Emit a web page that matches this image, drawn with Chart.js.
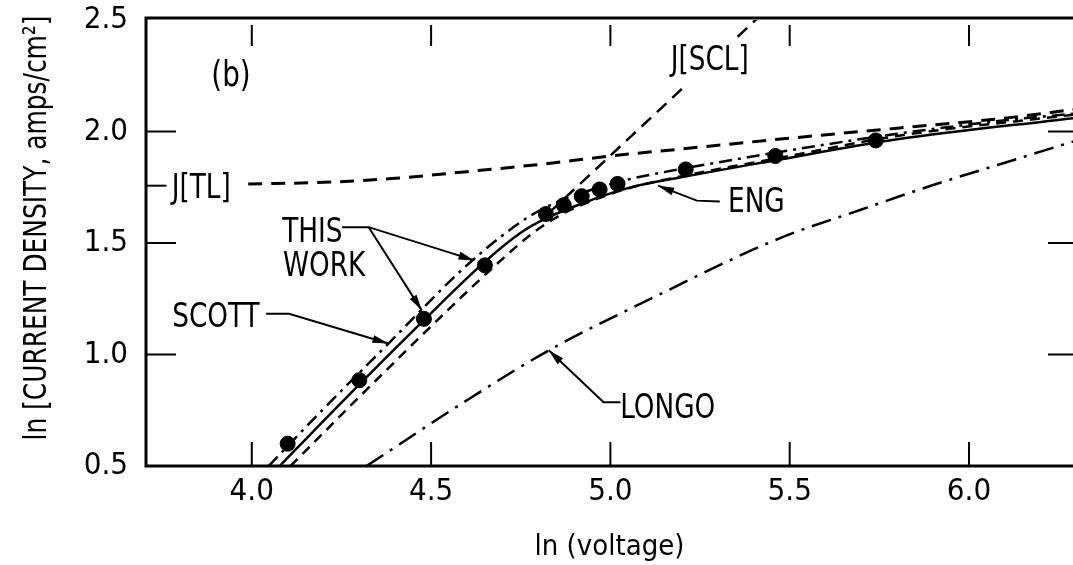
<!DOCTYPE html>
<html>
<head>
<meta charset="utf-8">
<script src="https://cdn.jsdelivr.net/npm/chart.js@4.4.1/dist/chart.umd.min.js"></script>
<style>
  html, body { margin: 0; padding: 0; background: #fff; overflow: hidden; }
</style>
</head>
<body>
<canvas id="chart" width="1073" height="565"></canvas>
<script>
// Axis ticks
const xTicks = [4.0, 4.5, 5.0, 5.5, 6.0];
const yTicks = [0.5, 1.0, 1.5, 2.0, 2.5];

// Measured points (filled circles)
const dataV = [4.10, 4.30, 4.48, 4.65, 4.82, 4.87, 4.92, 4.97, 5.02, 5.21, 5.46, 5.74];
const dataJ = [0.60, 0.885, 1.16, 1.40, 1.63, 1.67, 1.71, 1.74, 1.765, 1.83, 1.89, 1.96];

// J[TL] (long dashes)
const tlV = [3.99, 4.2, 4.4, 4.6, 4.8, 5.0, 5.2, 5.5, 5.8, 6.1, 6.3];
const tlJ = [1.765, 1.772, 1.79, 1.82, 1.852, 1.89, 1.922, 1.97, 2.015, 2.06, 2.10];

// J[SCL] (dashed, broken where the label sits)
const sclV = [4.83, 5.20, 5.28, 5.355, 5.41];
const sclJ = [1.637, 2.192, null, 2.425, 2.508];

// SCOTT (dash-dot)
const scottV = [4.047, 4.197, 4.381, 4.584, 4.70, 4.78, 4.86, 4.95, 5.05, 5.208, 5.46, 5.8, 6.1, 6.29];
const scottJ = [0.50, 0.751, 1.049, 1.377, 1.535, 1.625, 1.69, 1.74, 1.785, 1.835, 1.905, 1.99, 2.05, 2.08];

// ENG (solid)
const engV = [4.078, 4.224, 4.485, 4.648, 4.751, 4.82, 4.917, 5.046, 5.208, 5.45, 5.8, 6.29];
const engJ = [0.50, 0.742, 1.162, 1.413, 1.547, 1.610, 1.675, 1.745, 1.798, 1.868, 1.965, 2.06];

// THIS WORK (dashed)
const workV = [4.108, 4.30, 4.557, 4.70, 4.78, 4.86, 4.95, 5.05, 5.2, 5.45, 5.8, 6.29];
const workJ = [0.50, 0.81, 1.215, 1.43, 1.54, 1.625, 1.69, 1.745, 1.80, 1.875, 1.98, 2.075];

// LONGO (dash-dot)
const longoV = [4.32, 4.6, 4.83, 5.1, 5.47, 5.7, 5.9, 6.1, 6.29];
const longoJ = [0.50, 0.795, 1.02, 1.24, 1.52, 1.65, 1.76, 1.86, 1.955];

const FONT = '"DejaVu Sans Condensed", "Liberation Sans", sans-serif';

function pts(xs, ys) {
    return xs.map((v, i) => ({ x: v, y: ys[i] }));
}

function curve(xs, ys, dash, width) {
    return {
        data: pts(xs, ys),
        showLine: true,
        borderColor: '#000',
        borderWidth: width,
        borderDash: dash,
        pointRadius: 0,
        tension: 0.4,
        cubicInterpolationMode: 'monotone',
        spanGaps: false
    };
}

// Text labels and leader arrows, in data units
const notes = [
    { text: '(b)', x: 3.942, y: 2.245, size: 36 },
    { text: 'J[SCL]', x: 5.277, y: 2.317 },
    { text: 'J[TL]', x: 3.859, y: 1.740 },
    { text: 'THIS', x: 4.169, y: 1.543 },
    { text: 'WORK', x: 4.202, y: 1.392 },
    { text: 'SCOTT', x: 3.900, y: 1.162 },
    { text: 'ENG', x: 5.407, y: 1.678 },
    { text: 'LONGO', x: 5.160, y: 0.755 }
];
const leaders = [
    { path: [[3.705, 1.757], [3.762, 1.757]], arrow: false },
    { path: [[4.252, 1.571], [4.326, 1.571], [4.621, 1.422]], arrow: true },
    { path: [[4.326, 1.571], [4.474, 1.198]], arrow: true },
    { path: [[4.040, 1.183], [4.104, 1.183], [4.381, 1.049]], arrow: true },
    { path: [[5.305, 1.686], [5.241, 1.690], [5.133, 1.757]], arrow: true },
    { path: [[5.028, 0.786], [4.981, 0.786], [4.828, 1.019]], arrow: true }
];

// Box with inward ticks on every side
const framePlugin = {
    id: 'frame',
    afterDatasetsDraw(chart) {
        const { ctx, chartArea: a, scales: { x, y } } = chart;
        ctx.save();
        ctx.strokeStyle = '#000';
        ctx.lineWidth = 3;
        ctx.beginPath();
        ctx.moveTo(a.right + 2, a.top - 2);
        ctx.lineTo(a.left, a.top - 2);
        ctx.lineTo(a.left, a.bottom);
        ctx.lineTo(a.right + 2, a.bottom);
        ctx.stroke();

        ctx.lineWidth = 2;
        ctx.beginPath();
        xTicks.forEach(v => {
            const px = x.getPixelForValue(v);
            ctx.moveTo(px, a.bottom);
            ctx.lineTo(px, a.bottom - 24);
            ctx.moveTo(px, a.top + 5);
            ctx.lineTo(px, a.top + 26);
        });
        yTicks.slice(1, -1).forEach(v => {
            const py = y.getPixelForValue(v);
            ctx.moveTo(a.left, py);
            ctx.lineTo(a.left + 30, py);
            ctx.moveTo(a.right, py);
            ctx.lineTo(a.right - 25, py);
        });
        ctx.stroke();
        ctx.restore();
    }
};

function squeezedText(ctx, text, px, py, sx) {
    ctx.save();
    ctx.translate(px, py);
    ctx.scale(sx, 1);
    ctx.fillText(text, 0, 0);
    ctx.restore();
}

const notesPlugin = {
    id: 'notes',
    afterDraw(chart) {
        const { ctx, scales: { x, y } } = chart;
        ctx.save();
        ctx.fillStyle = '#000';
        ctx.strokeStyle = '#000';
        ctx.textAlign = 'center';
        ctx.textBaseline = 'middle';
        notes.forEach(n => {
            ctx.font = (n.size || 34) + 'px ' + FONT;
            squeezedText(ctx, n.text, x.getPixelForValue(n.x), y.getPixelForValue(n.y), 0.86);
        });

        ctx.lineWidth = 2;
        leaders.forEach(l => {
            const p = l.path.map(q => [x.getPixelForValue(q[0]), y.getPixelForValue(q[1])]);
            ctx.beginPath();
            ctx.moveTo(p[0][0], p[0][1]);
            for (let i = 1; i < p.length; i++) ctx.lineTo(p[i][0], p[i][1]);
            ctx.stroke();
            if (l.arrow) {
                const [x1, y1] = p[p.length - 2];
                const [x2, y2] = p[p.length - 1];
                const ang = Math.atan2(y2 - y1, x2 - x1);
                const len = 16, half = 4;
                ctx.beginPath();
                ctx.moveTo(x2, y2);
                ctx.lineTo(x2 - len * Math.cos(ang) + half * Math.sin(ang), y2 - len * Math.sin(ang) - half * Math.cos(ang));
                ctx.lineTo(x2 - len * Math.cos(ang) - half * Math.sin(ang), y2 - len * Math.sin(ang) + half * Math.cos(ang));
                ctx.closePath();
                ctx.fill();
            }
        });

        // y axis title, squeezed to the height of the frame
        const yTitle = 'ln [CURRENT DENSITY, amps/cm²]';
        ctx.font = '32px ' + FONT;
        const w = ctx.measureText(yTitle).width;
        ctx.translate(38, 228);
        ctx.rotate(-Math.PI / 2);
        ctx.scale(Math.min(1, 425 / w), 1);
        ctx.fillText(yTitle, 0, 0);
        ctx.restore();
    }
};

Chart.defaults.color = '#000';

new Chart(document.getElementById('chart'), {
    type: 'scatter',
    data: {
        datasets: [
            {
                data: pts(dataV, dataJ),
                backgroundColor: '#000',
                borderColor: '#000',
                pointRadius: 7.5,
                pointHoverRadius: 7.5,
                showLine: false
            },
            curve(engV, engJ, [], 2.5),
            curve(scottV, scottJ, [13, 6, 3, 6], 2.5),
            curve(workV, workJ, [10, 7], 2.5),
            curve(tlV, tlJ, [14, 9], 3),
            curve(sclV, sclJ, [13, 8], 2.5),
            curve(longoV, longoJ, [20, 8, 3, 8], 2.5)
        ]
    },
    options: {
        responsive: false,
        animation: false,
        layout: { autoPadding: false, padding: { top: 20, right: 0, left: 0, bottom: 0 } },
        plugins: {
            legend: { display: false },
            tooltip: { enabled: false }
        },
        scales: {
            x: {
                type: 'linear',
                min: 3.705,
                max: 6.29,
                afterFit: s => { s.height = 99; s.paddingLeft = 0; s.paddingRight = 0; },
                afterBuildTicks: s => { s.ticks = xTicks.map(v => ({ value: v })); },
                grid: { display: false, drawTicks: false },
                border: { display: false },
                ticks: {
                    padding: 7,
                    font: { family: FONT, size: 31 },
                    callback: v => v.toFixed(1)
                },
                title: {
                    display: true,
                    text: 'ln (voltage)',
                    font: { family: FONT, size: 29 },
                    padding: { top: 0, bottom: 0 }
                }
            },
            y: {
                type: 'linear',
                min: 0.5,
                max: 2.5,
                afterFit: s => { s.width = 146; s.paddingTop = 0; s.paddingBottom = 0; },
                afterBuildTicks: s => { s.ticks = yTicks.map(v => ({ value: v })); },
                grid: { display: false, drawTicks: false },
                border: { display: false },
                ticks: {
                    padding: 18,
                    font: { family: FONT, size: 31 },
                    callback: v => v.toFixed(1)
                }
            }
        }
    },
    plugins: [framePlugin, notesPlugin]
});
</script>
</body>
</html>
